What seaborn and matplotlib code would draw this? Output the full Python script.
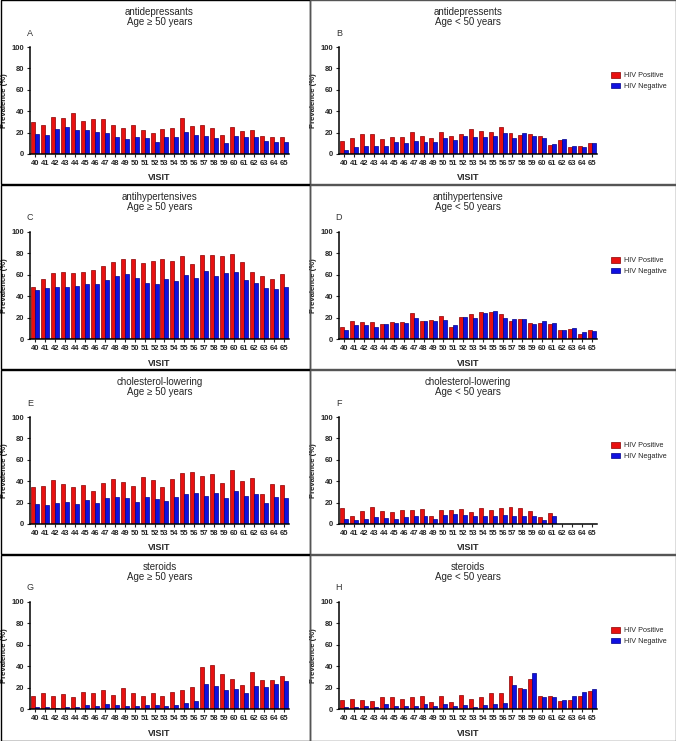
import numpy as np
import pandas as pd
import matplotlib.pyplot as plt
import seaborn as sns
from matplotlib.patches import Patch, Rectangle

# visits on the x axis
visits = [str(v) for v in range(40, 66)]

# prevalence (%), HIV positive / HIV negative
a_pos = [30, 27, 34.5, 34, 38, 31, 33, 33, 27, 24, 27, 22, 20, 23, 24.5, 33.5, 26, 27, 24.5, 18, 25.5, 21.5, 22, 16.5, 15.5, 16]
a_neg = [18.7, 18, 23, 25, 22.7, 22.4, 20.5, 19.6, 15.5, 14, 16, 15, 11.5, 16, 16, 20.5, 17.8, 16.8, 15.3, 10.6, 16.8, 16, 15.9, 11.8, 11.5, 11.2]
b_pos = [12.5, 14.6, 18.4, 18.4, 14, 16.2, 16.2, 21, 16.5, 14.6, 21, 16.8, 18.7, 23.7, 21.5, 21, 25, 19.6, 17.4, 18.4, 16.5, 8.7, 12.8, 6.5, 7.2, 10]
b_neg = [3.7, 6.2, 7.5, 7.8, 7.8, 10.9, 10, 12.5, 11.5, 11.5, 14.6, 13.4, 16.8, 16.2, 16.2, 16.5, 19.3, 15.3, 19.3, 17.1, 15.3, 9, 14.3, 7.8, 6.5, 10.6]
c_pos = [48.8, 56.5, 61.4, 62.3, 61.4, 62.3, 64.8, 67.9, 71.6, 74.4, 74.7, 70.7, 72.5, 74.4, 72.5, 77.2, 69.8, 78.7, 78.7, 77.2, 79.3, 71.6, 63, 58.6, 56.5, 60.5]
c_neg = [45.7, 47.2, 49, 48.5, 49.4, 51.2, 51.2, 55.6, 58.6, 61.1, 57.1, 52.2, 51.2, 55.9, 54.6, 59.6, 57.4, 63.3, 59, 61.4, 62.7, 55, 51.9, 47.2, 46.3, 48.5]
d_pos = [11, 17, 16, 16, 14.2, 16, 16, 24.4, 17, 18, 21.6, 11.4, 21, 23.5, 25.3, 25, 23.8, 16.4, 18.8, 15.1, 14.5, 14.2, 8, 9, 4.6, 8.6]
d_neg = [8.6, 12.7, 12.7, 11.1, 13.6, 14.5, 15.1, 19.4, 17, 16.4, 17.6, 12.7, 21, 19.4, 24, 26.2, 19.7, 18.8, 19.1, 13.6, 16.4, 15.1, 8, 9.9, 6.2, 7.1]
e_pos = [34.4, 35.3, 40.9, 37.1, 34.4, 36.2, 30.7, 38, 41.8, 39.3, 35.9, 43.7, 41.2, 35, 42.4, 47.4, 48.3, 44.6, 47.1, 38.4, 50.8, 40.6, 43.3, 28.2, 37.8, 36.8]
e_neg = [18.9, 17.3, 19.2, 20.4, 18.3, 22.3, 19.5, 24.1, 25.1, 24.1, 20.4, 25.1, 23.5, 21.7, 25.7, 27.9, 29.4, 26.6, 28.8, 24.1, 30.7, 26, 27.6, 19.5, 25.1, 24.1]
f_pos = [15.2, 7.8, 12.1, 16.2, 12.4, 10.9, 13.4, 13.4, 14.3, 7.8, 13.4, 13.4, 14.3, 10.9, 14.6, 13.4, 15.2, 16.2, 15.2, 12.4, 6.2, 10.6, 0, 0, 0, 0]
f_neg = [5, 3.4, 5, 6.2, 5.6, 5, 6.2, 7.8, 7.5, 4.7, 8.1, 9, 8.4, 7.5, 7.5, 7.2, 8.1, 7.2, 7.2, 7.8, 3.4, 7.2, 0, 0, 0, 0]
g_pos = [12.3, 14.7, 12.6, 13.8, 11, 16.3, 15.3, 17.5, 13.5, 19.3, 15, 12, 14.7, 12.6, 15.6, 17.5, 20.6, 39.6, 41.1, 32.8, 27.9, 22.1, 35, 26.7, 26.7, 31]
g_neg = [1.8, 1.8, 1.2, 2.1, 2.1, 4, 3, 4.6, 3.4, 2.8, 2.8, 3.4, 3.7, 2.8, 3.7, 5.2, 7.4, 23, 21.8, 18.1, 19, 14.7, 21.8, 20.6, 23, 26.1]
h_pos = [8, 9.5, 8.6, 7.1, 11.4, 11.1, 8.9, 10.8, 12.3, 6.2, 11.7, 6.8, 12.9, 9.8, 11.1, 15.1, 14.8, 31.1, 20, 27.7, 12.3, 12, 7.7, 8.6, 11.7, 16.9]
h_neg = [1.8, 1.8, 2.5, 2.2, 4.3, 2.5, 2.5, 3.1, 4.6, 2.8, 4.3, 3.1, 4, 1.5, 4, 4.3, 5.8, 22.5, 18.8, 33.5, 11.1, 10.8, 8.6, 12.6, 15.7, 19.1]

titles = ['antidepressants', 'antidepressents', 'antihypertensives', 'antihypertensive',
          'cholesterol-lowering', 'cholesterol-lowering', 'steroids', 'steroids']
letters = ['A', 'B', 'C', 'D', 'E', 'F', 'G', 'H']
ages = ['Age \u2265 50 years', 'Age < 50 years']
groups = ['HIV Positive', 'HIV Negative']
series = [(a_pos, a_neg), (b_pos, b_neg), (c_pos, c_neg), (d_pos, d_neg),
          (e_pos, e_neg), (f_pos, f_neg), (g_pos, g_neg), (h_pos, h_neg)]

sns.set_style('ticks')
plt.rcParams['font.family'] = ['Liberation Sans', 'DejaVu Sans']

W, H = 676, 741
fig = plt.figure(figsize=(W / 100, H / 100), dpi=100)

colors = {'HIV Positive': '#e81010', 'HIV Negative': '#1010e0'}
edges = {'HIV Positive': '#8a0000', 'HIV Negative': '#00008a'}


def fx(px):
    return px / W


def fy(py):
    return 1 - py / H


row_top = [0, 185, 370, 555]
for i, (pos, neg) in enumerate(series):
    row, col = divmod(i, 2)
    y0 = row_top[row]
    # panel box
    if col == 0:
        bx, bw, ec = 0.5, 309.5, 'black'
    else:
        bx, bw, ec = 310, 365.5, '#555555'
    bh = 184 if row < 3 else 185.5
    fig.patches.append(Rectangle((fx(bx), fy(y0 + bh)), bw / W, bh / H, fill=False,
                                 edgecolor=ec, linewidth=1, transform=fig.transFigure))

    ax_l = 30 if col == 0 else 339
    ax_r = 289 if col == 0 else 597
    ax = fig.add_axes([fx(ax_l), fy(y0 + 154), (ax_r - ax_l) / W, 107 / H])

    df = pd.DataFrame({
        'VISIT': visits * 2,
        'value': pos + neg,
        'group': [groups[0]] * len(visits) + [groups[1]] * len(visits),
    })
    sns.barplot(data=df, x='VISIT', y='value', hue='group', palette=colors,
                saturation=1, width=0.8, ax=ax, legend=False)
    for bar in ax.patches:
        fc = bar.get_facecolor()
        bar.set_edgecolor(edges['HIV Positive'] if fc[0] > fc[2] else edges['HIV Negative'])
        bar.set_linewidth(0.5)

    ax.set_ylim(0, 100)
    ax.set_xlim(-0.55, 25.55)
    ax.set_yticks([0, 20, 40, 60, 80, 100])
    sns.despine(ax=ax)
    for s in ['left', 'bottom']:
        ax.spines[s].set_linewidth(1.1)
        ax.spines[s].set_color('black')
    ax.tick_params(axis='both', length=2.5, width=0.8, pad=1.5, labelsize=5.5)
    for lab in ax.get_xticklabels() + ax.get_yticklabels():
        lab.set_fontweight('bold')
    ax.set_xlabel('VISIT', fontsize=6.5, fontweight='bold', labelpad=5)
    ax.set_ylabel('Prevalence (%)', fontsize=5.5, fontweight='bold', labelpad=3)

    cx = (ax_l + ax_r) / 2
    fig.text(fx(cx), fy(y0 + 12), titles[i], ha='center', va='center', fontsize=7)
    fig.text(fx(cx), fy(y0 + 22), ages[col], ha='center', va='center', fontsize=7)
    fig.text(fx(ax_l), fy(y0 + 33), letters[i], ha='center', va='center', fontsize=6.5,
             color='#333333')

    if col == 1:
        handles = [Patch(facecolor=colors[g], edgecolor=edges[g], linewidth=0.5, label=g)
                   for g in groups]
        fig.legend(handles=handles, loc='upper left',
                   bbox_to_anchor=(fx(611), fy(y0 + 72)), frameon=False,
                   fontsize=5.2, handlelength=1.3, handleheight=0.8,
                   handletextpad=0.5, labelspacing=0.45, borderaxespad=0,
                   borderpad=0)

fig.savefig('out.png', dpi=100)
